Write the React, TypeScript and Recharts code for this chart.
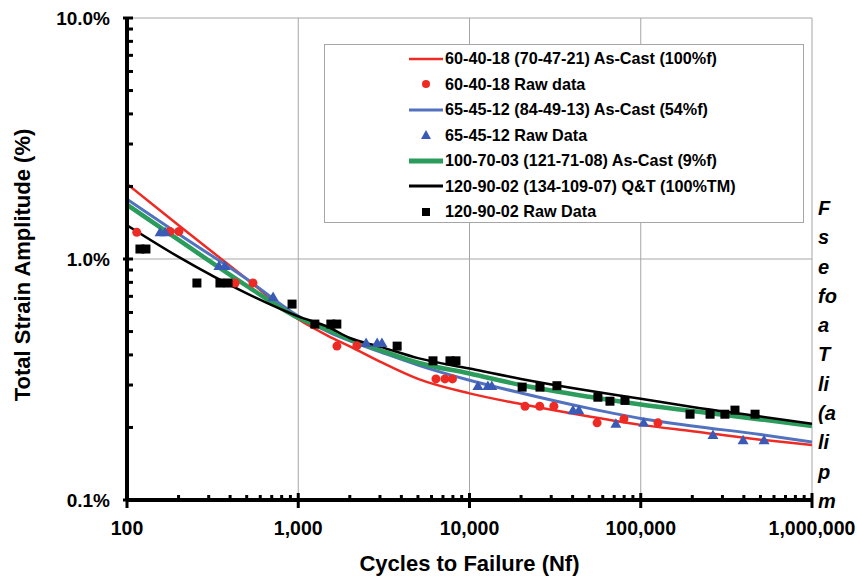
import React from "react";
import {
  ComposedChart,
  Line,
  Scatter,
  XAxis,
  YAxis,
  CartesianGrid,
  Legend,
  Label,
} from "recharts";

// fitted curves, sampled at these cycle counts
const curveN = [100, 200, 500, 1000, 1500, 2000, 3000, 5000, 10000, 20000, 50000, 100000, 200000, 500000, 1000000];
const red6040 = [2.05, 1.38, 0.826, 0.562, 0.479, 0.434, 0.375, 0.318, 0.277, 0.25, 0.222, 0.205, 0.193, 0.178, 0.169];
const blue6545 = [1.77, 1.27, 0.826, 0.58, 0.498, 0.457, 0.412, 0.363, 0.314, 0.278, 0.24, 0.218, 0.203, 0.187, 0.174];
const green10070 = [1.68, 1.2, 0.774, 0.57, 0.507, 0.464, 0.419, 0.371, 0.335, 0.3, 0.268, 0.249, 0.234, 0.216, 0.203];
const black12090 = [1.38, 1.02, 0.72, 0.578, 0.522, 0.47, 0.433, 0.388, 0.351, 0.318, 0.284, 0.263, 0.243, 0.222, 0.207];

// raw test data
const rawRedN = [114, 178, 201, 428, 544, 1682, 2200, 6370, 7190, 7950, 21100, 25700, 31100, 55600, 79800, 126000];
const rawRedS = [1.29, 1.3, 1.3, 0.795, 0.795, 0.435, 0.437, 0.318, 0.318, 0.318, 0.245, 0.245, 0.245, 0.209, 0.217, 0.209];
const rawBlueN = [156, 167, 344, 373, 713, 2490, 2890, 3080, 11200, 12800, 13500, 40200, 43500, 71600, 104000, 264000, 396000, 525000];
const rawBlueS = [1.29, 1.29, 0.935, 0.935, 0.695, 0.448, 0.448, 0.448, 0.297, 0.297, 0.297, 0.236, 0.236, 0.207, 0.209, 0.186, 0.177, 0.177];
const rawBlackN = [119, 129, 256, 349, 389, 920, 1250, 1550, 1680, 3780, 6120, 7690, 8340, 20300, 25800, 32400, 56200, 66100, 80900, 194000, 254000, 310000, 355000, 465000];
const rawBlackS = [1.1, 1.1, 0.795, 0.795, 0.795, 0.65, 0.537, 0.537, 0.537, 0.435, 0.378, 0.378, 0.378, 0.294, 0.294, 0.298, 0.267, 0.257, 0.259, 0.227, 0.227, 0.227, 0.236, 0.227];

const legendNames = [
  "60-40-18 (70-47-21) As-Cast (100%f)",
  "60-40-18 Raw data",
  "65-45-12 (84-49-13) As-Cast (54%f)",
  "65-45-12 Raw Data",
  "100-70-03 (121-71-08) As-Cast (9%f)",
  "120-90-02 (134-109-07) Q&T (100%TM)",
  "120-90-02 Raw Data",
];

const majorX = [100, 1000, 10000, 100000, 1000000];
const xLabels = ["100", "1,000", "10,000", "100,000", "1,000,000"];
const majorY = [0.1, 1, 10];
const yLabels = ["0.1%", "1.0%", "10.0%"];
const minorSteps = [2, 3, 4, 5, 6, 7, 8, 9];

const captionBits = ["F", "s", "e", "fo", "a", "T", "li", "(a", "li", "p", "m"];

const RED = "#ee2a24";
const BLUE = "#5272bf";
const TRI = "#3a5bb5";
const GREEN = "#2b9c5b";
const FONT = "'Liberation Sans', Arial, sans-serif";

const minorX = majorX.slice(0, -1).flatMap((d) => minorSteps.map((m) => d * m));
const minorY = majorY.slice(0, -1).flatMap((d) => minorSteps.map((m) => +(d * m).toFixed(2)));

const toRows = (ns: number[], ss: number[]) => ns.map((n, i) => ({ n, s: ss[i] }));

const redCurve = toRows(curveN, red6040);
const blueCurve = toRows(curveN, blue6545);
const greenCurve = toRows(curveN, green10070);
const blackCurve = toRows(curveN, black12090);
const redRaw = toRows(rawRedN, rawRedS);
const blueRaw = toRows(rawBlueN, rawBlueS);
const blackRaw = toRows(rawBlackN, rawBlackS);

const XTick = (props: any) => {
  const { x, y, payload } = props;
  const idx = majorX.indexOf(payload.value);
  const major = idx >= 0;
  return (
    <g>
      <line x1={x} x2={x} y1={y - (major ? 7 : 5)} y2={y + (major ? 8 : 0)} stroke="#000" strokeWidth={3} />
      {major && (
        <text x={x} y={y + 35} textAnchor="middle" fontSize={19.5} fontWeight="bold" fontFamily={FONT} fill="#000">
          {xLabels[idx]}
        </text>
      )}
    </g>
  );
};

const YTick = (props: any) => {
  const { x, y, payload } = props;
  const idx = majorY.indexOf(payload.value);
  const major = idx >= 0;
  return (
    <g>
      <line x1={x - (major ? 4 : 0)} x2={x + 6} y1={y} y2={y} stroke="#000" strokeWidth={3} />
      {major && (
        <text x={x - 17} y={y + 7} textAnchor="end" fontSize={19} fontWeight="bold" fontFamily={FONT} fill="#000">
          {yLabels[idx]}
        </text>
      )}
    </g>
  );
};

const Dot = (p: any) => <circle cx={p.cx} cy={p.cy} r={4.5} fill={RED} />;
const Tri = (p: any) => (
  <polygon points={`${p.cx},${p.cy - 5.5} ${p.cx - 5.5},${p.cy + 4} ${p.cx + 5.5},${p.cy + 4}`} fill={TRI} />
);
const Sq = (p: any) => <rect x={p.cx - 4.5} y={p.cy - 4.5} width={9} height={9} fill="#000" />;

const legendKinds = [
  { kind: "line", color: RED, w: 2.5 },
  { kind: "dot", color: RED, w: 0 },
  { kind: "line", color: BLUE, w: 3 },
  { kind: "tri", color: TRI, w: 0 },
  { kind: "line", color: GREEN, w: 5 },
  { kind: "line", color: "#000", w: 3 },
  { kind: "sq", color: "#000", w: 0 },
];

const LegendBox = () => (
  <div
    style={{
      width: "100%",
      height: "100%",
      boxSizing: "border-box",
      border: "1px solid #a6a6a6",
      background: "#fff",
      paddingTop: 1,
    }}
  >
    {legendNames.map((name, i) => {
      const k = legendKinds[i];
      return (
        <div key={name} style={{ display: "flex", alignItems: "center", height: 25.5 }}>
          <svg width={120} height={20} style={{ flex: "none" }}>
            {k.kind === "line" && <line x1={84} x2={118} y1={10} y2={10} stroke={k.color} strokeWidth={k.w} />}
            {k.kind === "dot" && <circle cx={101} cy={10} r={4} fill={k.color} />}
            {k.kind === "tri" && <polygon points="101,5 96,14 106,14" fill={k.color} />}
            {k.kind === "sq" && <rect x={97} y={6} width={8} height={8} fill={k.color} />}
          </svg>
          <span style={{ fontFamily: FONT, fontWeight: "bold", fontSize: 16.2, color: "#000", whiteSpace: "nowrap" }}>
            {name}
          </span>
        </div>
      );
    })}
  </div>
);

export default function App() {
  return (
    <div style={{ position: "fixed", left: 0, top: 0, width: 857, height: 579, background: "#fff", overflow: "hidden" }}>
      <ComposedChart width={857} height={579} margin={{ top: 18, right: 45, bottom: 49, left: 67 }}>
        <CartesianGrid
          stroke="#a6a6a6"
          strokeWidth={1}
          verticalValues={[1000, 10000, 100000, 1000000]}
          horizontalValues={[1, 10]}
        />
        <XAxis
          type="number"
          dataKey="n"
          scale="log"
          domain={[100, 1000000]}
          allowDataOverflow
          ticks={[...majorX, ...minorX]}
          interval={0}
          tickSize={0}
          tickMargin={0}
          tickLine={false}
          tick={XTick}
          axisLine={{ stroke: "#000", strokeWidth: 4 }}
          height={30}
        >
          <Label
            content={(p: any) => (
              <text
                x={p.viewBox.x + p.viewBox.width / 2}
                y={p.viewBox.y + 71}
                textAnchor="middle"
                fontSize={22}
                fontWeight="bold"
                fontFamily={FONT}
                fill="#000"
              >
                Cycles to Failure (Nf)
              </text>
            )}
          />
        </XAxis>
        <YAxis
          type="number"
          dataKey="s"
          scale="log"
          domain={[0.1, 10]}
          allowDataOverflow
          ticks={[...majorY, ...minorY]}
          interval={0}
          tickSize={0}
          tickMargin={0}
          tickLine={false}
          tick={YTick}
          axisLine={{ stroke: "#000", strokeWidth: 4 }}
          width={60}
        >
          <Label
            content={(p: any) => {
              const cx = p.viewBox.x - 44.5;
              const cy = p.viewBox.y + p.viewBox.height / 2 + 6;
              return (
                <text
                  x={cx}
                  y={cy}
                  transform={`rotate(-90 ${cx} ${cy})`}
                  textAnchor="middle"
                  dominantBaseline="central"
                  fontSize={22}
                  fontWeight="bold"
                  fontFamily={FONT}
                  fill="#000"
                >
                  Total Strain Amplitude (%)
                </text>
              );
            }}
          />
        </YAxis>
        <Legend
          layout="horizontal"
          verticalAlign="middle"
          align="center"
          content={LegendBox}
          wrapperStyle={{ left: 324, top: 44, width: 480, height: 179 }}
        />
        <Line data={redCurve} dataKey="s" type="monotone" stroke={RED} strokeWidth={2.5} dot={false} isAnimationActive={false} />
        <Line data={blueCurve} dataKey="s" type="monotone" stroke={BLUE} strokeWidth={3} dot={false} isAnimationActive={false} />
        <Line data={greenCurve} dataKey="s" type="monotone" stroke={GREEN} strokeWidth={4.5} dot={false} isAnimationActive={false} />
        <Line data={blackCurve} dataKey="s" type="monotone" stroke="#000" strokeWidth={2.5} dot={false} isAnimationActive={false} />
        <Scatter data={redRaw} dataKey="s" shape={Dot} isAnimationActive={false} />
        <Scatter data={blueRaw} dataKey="s" shape={Tri} isAnimationActive={false} />
        <Scatter data={blackRaw} dataKey="s" shape={Sq} isAnimationActive={false} />
      </ComposedChart>
      <div style={{ position: "absolute", left: 818, top: 194 }}>
        {captionBits.map((t, i) => (
          <div
            key={i}
            style={{
              height: 29.3,
              lineHeight: "29.3px",
              fontFamily: FONT,
              fontWeight: "bold",
              fontStyle: "italic",
              fontSize: 20,
              color: "#000",
              whiteSpace: "nowrap",
            }}
          >
            {t}
          </div>
        ))}
      </div>
    </div>
  );
}
